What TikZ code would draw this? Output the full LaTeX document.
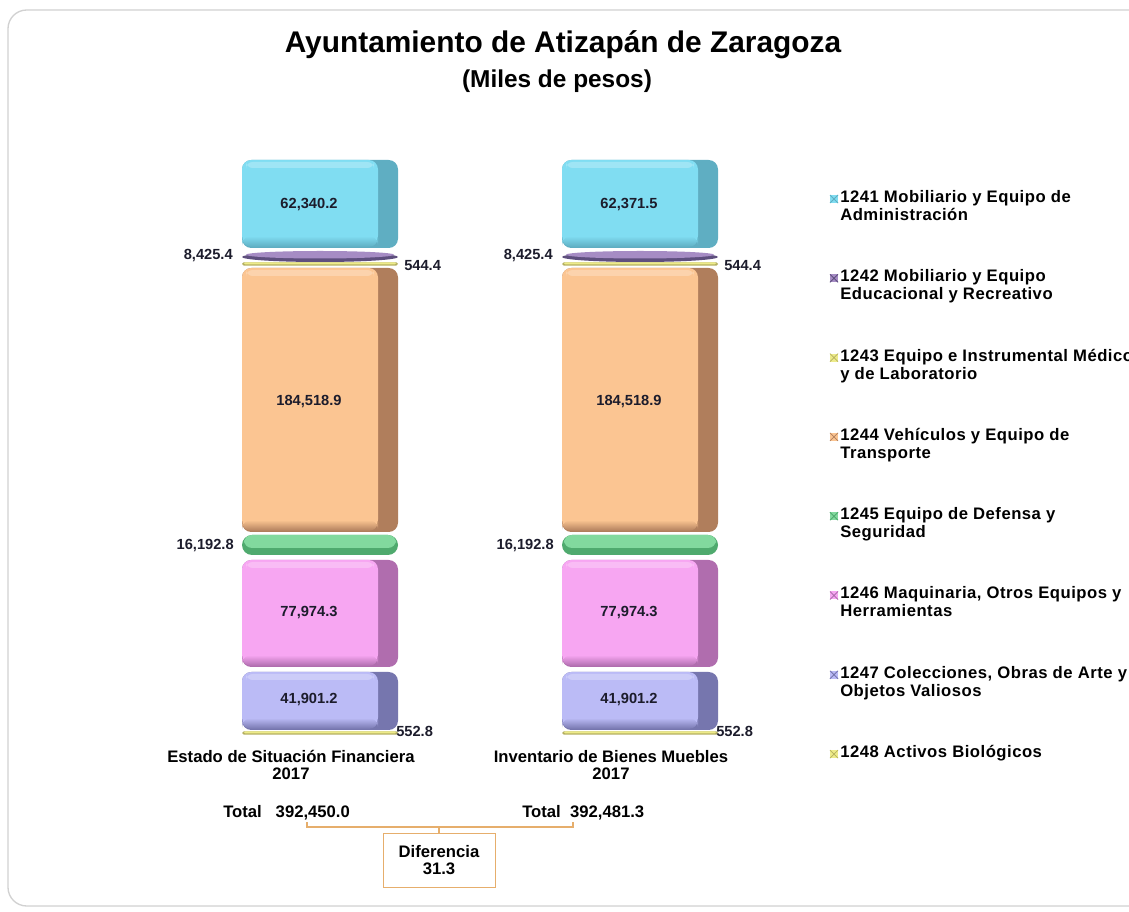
\documentclass[tikz,border=0pt]{standalone}
\usepackage{fontspec}
\setmainfont{Liberation Sans}
\usetikzlibrary{positioning}

\definecolor{azulcara}{HTML}{80DDF2}
\definecolor{azullado}{HTML}{5FAEC2}
\definecolor{moradocara}{HTML}{A68CC4}
\definecolor{moradolado}{HTML}{5E4F7E}
\definecolor{amarillocara}{HTML}{EDEB8A}
\definecolor{amarillolado}{HTML}{B5B060}
\definecolor{naranjacara}{HTML}{FBC592}
\definecolor{naranjalado}{HTML}{B07E5C}
\definecolor{verdecara}{HTML}{82D99E}
\definecolor{verdelado}{HTML}{4FAA6E}
\definecolor{rosacara}{HTML}{F7A6F2}
\definecolor{rosalado}{HTML}{B06DAE}
\definecolor{lilacara}{HTML}{BBBBF6}
\definecolor{lilalado}{HTML}{7676AE}
\definecolor{corchete}{HTML}{E6AE6C}
\definecolor{texto}{HTML}{1C1C2C}

\newcommand{\bloque}[4]{%
  \fill[rounded corners=7pt, #4lado] (#1,#2) rectangle (#1+156,#3);
  \fill[rounded corners=7pt, #4cara] (#1,#2) rectangle (#1+136,#3-3);
  \shade[rounded corners=7pt, top color=#4cara, bottom color=#4lado] (#1,#3-12) rectangle (#1+136,#3-1);
  \fill[white, opacity=.25, rounded corners=5pt] (#1+4,#2+2) rectangle (#1+132,#2+8);
}
\newcommand{\disco}[4]{%
  \fill[rounded corners=#3*0.75pt, #4lado] (#1,#2-#3) rectangle (#1+156,#2+#3);
  \fill[rounded corners=#3*0.6pt, #4cara] (#1+2,#2-#3) rectangle (#1+154,#2+#3*0.3);
}
\newcommand{\lente}[4]{%
  \fill[#4lado] (#1+78,#2+#3*0.2) ellipse [x radius=78, y radius=#3];
  \fill[#4cara] (#1+78,#2-#3*0.25) ellipse [x radius=74, y radius=#3*0.75];
}

\tikzset{
  valor/.style={font=\bfseries\fontsize{11}{12}\selectfont, text=texto, inner sep=0pt},
  rotulo/.style={font=\bfseries\fontsize{12.5}{12.75}\selectfont, align=center, inner sep=0pt},
  leyenda/.style={font=\bfseries\fontsize{12.5}{13.5}\selectfont\addfontfeature{LetterSpace=3}, align=left, anchor=north west, inner sep=0pt},
}

\begin{document}
\begin{tikzpicture}[x=0.75pt,y=-0.75pt]

\useasboundingbox (0,0) rectangle (1129,912);
\draw[black!18, line width=1pt, rounded corners=14pt, fill=white] (8,10) rectangle (1150,906);

\node (titulo) at (563,45) {\bfseries\fontsize{22.4}{24}\selectfont Ayuntamiento de Atizapán de Zaragoza};
\node (subtitulo) at (557,81) {\bfseries\fontsize{18.3}{20}\selectfont (Miles de pesos)};

\foreach \x/\va/\pie in {242/{62,340.2}/{Estado de Situación Financiera},562/{62,371.5}/{Inventario de Bienes Muebles}}{
  \bloque{\x}{160}{248}{azul}
  \lente{\x}{256}{5}{morado}
  \disco{\x}{264}{1.6}{amarillo}
  \bloque{\x}{268}{532}{naranja}
  \disco{\x}{545}{10}{verde}
  \bloque{\x}{560}{667}{rosa}
  \bloque{\x}{672}{730}{lila}
  \disco{\x}{733}{1.6}{amarillo}
  \node[valor] (azul-\x) at (\x+67,205) {\va};
  \node[valor] (naranja-\x) at (\x+67,402) {184,518.9};
  \node[valor] (rosa-\x) at (\x+67,613) {77,974.3};
  \node[valor] (lila-\x) at (\x+67,700) {41,901.2};
  \node[valor, anchor=east] (morado-\x) at (\x-9,256) {8,425.4};
  \node[valor, anchor=west] (amarillo-\x) at (\x+162,266) {544.4};
  \node[valor, anchor=east] (verde-\x) at (\x-8,546) {16,192.8};
  \node[valor, anchor=west] (biol-\x) at (\x+154,731) {552.8};
  \node[rotulo] (pie-\x) at (\x+49,765) {\pie\\2017};
}

\node[rotulo, anchor=west] (total1) at (223,813) {Total~~~392,450.0};
\node[rotulo, anchor=west] (total2) at (522,813) {Total~~392,481.3};
\node[rotulo, draw=corchete, minimum width=84pt, minimum height=40.5pt] (dif) at (439,860) {Diferencia\\31.3};

\coordinate (c1) at (307,822);
\coordinate (c2) at (573,822);
\draw[corchete, line width=1pt] (c1) -- ++(0,5) -| (c2);
\draw[corchete, line width=1pt] (dif.north) -- ++(0,-6);

% leyenda
\foreach \i/\col/\txt in {0/azul/{1241 Mobiliario y Equipo de\\Administración},
  1/morado/{1242 Mobiliario y Equipo\\Educacional y Recreativo},
  2/amarillo/{1243 Equipo e Instrumental Médico\\y de Laboratorio},
  3/naranja/{1244 Vehículos y Equipo de\\Transporte},
  4/verde/{1245 Equipo de Defensa y\\Seguridad},
  5/rosa/{1246 Maquinaria, Otros Equipos y\\Herramientas},
  6/lila/{1247 Colecciones, Obras de Arte y\\Objetos Valiosos},
  7/amarillo/{1248 Activos Biológicos}}{
  \fill[\col cara] (830,195+79.3*\i) rectangle ++(8,8);
  \draw[\col lado, line width=.6pt] (830,195+79.3*\i) -- ++(8,8) (830,203+79.3*\i) -- ++(8,-8);
  \node[leyenda] (ley-\i) at (840,190+79.3*\i) {\txt};
}

\end{tikzpicture}
\end{document}
